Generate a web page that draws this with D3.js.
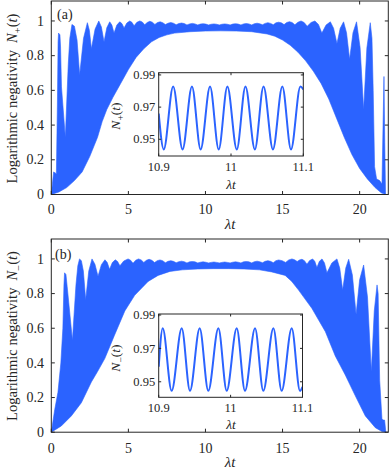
<!DOCTYPE html>
<html><head><meta charset="utf-8">
<script src="https://cdn.jsdelivr.net/npm/d3@7"></script>
<style>
body{margin:0;background:#fff}
svg{display:block}
text{font-family:"Liberation Serif","Times New Roman",serif;fill:#262626}
</style>
</head><body>
<svg id="chart" width="390" height="472"></svg>
<script>
// ---------- data ----------
const xTicks = [0, 5, 10, 15, 20];
const xTickLabels = ["0", "5", "10", "15", "20"];
const yTicks = [0, 0.2, 0.4, 0.6, 0.8, 1];
const yTickLabels = ["0", "0.2", "0.4", "0.6", "0.8", "1"];
const insetXTicks = [10.9, 11, 11.1];
const insetXTickLabels = ["10.9", "11", "11.1"];
const insetYTicks = [0.95, 0.97, 0.99];
const insetYTickLabels = ["0.95", "0.97", "0.99"];

// upper / lower envelope of the fast oscillation, panel (a): [λt, N+]
const upperA = [[0,0],[0.15,0.13],[0.33,0.12],[0.40,0.55],[0.44,0.88],[0.47,0.93],[0.56,0.92],[0.60,0.85],[0.66,0.62],[0.91,0.33],[1.1,0.75],[1.2,0.9],[1.34,0.98],[1.5,0.97],[1.67,0.89],[1.84,0.69],
  [2.09,0.90],[2.34,0.99],[2.47,0.946],[2.6,0.84],
  [2.84,0.953],[3.08,1.0],[3.25,0.965],[3.42,0.88],
  [3.6,0.961],[3.79,0.995],[3.93,0.976],[4.07,0.93],
  [4.25,0.976],[4.44,0.995],[4.58,0.985],[4.72,0.96],
  [4.9,0.988],[5.09,1.0],[5.23,0.992],[5.37,0.972],
  [5.55,0.992],[5.74,1.0],[5.9,0.994],[6.06,0.978],
  [6.22,0.991],[6.39,0.998],[6.55,0.993],[6.72,0.98],
  [6.89,0.991],[7.06,0.995],[7.23,0.99],[7.4,0.979],
  [7.57,0.987],[7.75,0.991],[7.92,0.987],[8.1,0.978],
  [8.27,0.985],[8.45,0.988],[8.62,0.985],[8.8,0.977],
  [8.97,0.983],[9.15,0.986],[9.32,0.983],[9.5,0.977],
  [9.67,0.982],[9.85,0.984],[10.02,0.982],[10.2,0.977],
  [10.37,0.981],[10.55,0.983],[10.72,0.981],[10.9,0.977],
  [11.07,0.981],[11.25,0.983],[11.42,0.981],[11.6,0.977],
  [11.77,0.982],[11.95,0.984],[12.12,0.982],[12.3,0.977],
  [12.47,0.983],[12.65,0.985],[12.82,0.983],[13.0,0.977],
  [13.17,0.984],[13.35,0.987],[13.52,0.984],[13.7,0.978],
  [13.87,0.986],[14.05,0.99],[14.22,0.986],[14.4,0.978],
  [14.57,0.989],[14.75,0.993],[14.92,0.989],[15.1,0.979],
  [15.27,0.991],[15.45,0.996],[15.62,0.991],[15.8,0.978],
  [16.0,0.993],[16.2,1.0],[16.4,0.991],[16.6,0.97],
  [16.85,0.991],[17.1,1.0],[17.33,0.98],[17.55,0.93],
  [17.82,0.976],[18.1,0.995],[18.31,0.958],[18.53,0.87],
  [18.74,0.958],[18.96,0.995],[19.15,0.932],[19.35,0.78],
  [19.57,0.932],[19.8,0.995],[20.03,0.847],[20.26,0.49],
  [20.47,0.844],[20.69,0.99],[20.8,0.9],[20.88,0.6],[20.97,0.16],
  [21.1,0.09],[21.3,0.08],[21.45,0.06],[21.52,0.4],[21.58,0.68],[21.63,0.3],[21.68,0.0]];
const lowerA = [[0,0],[0.5,0.015],[1.0,0.04],[1.5,0.08],[2.0,0.13],[2.5,0.22],[3.0,0.33],[3.3,0.42],[3.6,0.49],[4.0,0.56],[4.5,0.64],[5.0,0.72],[5.5,0.79],[6.0,0.84],[6.5,0.88],[7.0,0.905],[7.5,0.92],[8.0,0.93],[9.0,0.938],[10.0,0.942],[11.0,0.943],[12.0,0.942],[13.0,0.938],[14.0,0.925],[14.5,0.912],[15.0,0.89],[15.5,0.86],[16.0,0.82],[16.5,0.77],[17.0,0.71],[17.5,0.64],[18.0,0.55],[18.5,0.44],[19.0,0.33],[19.5,0.23],[20.0,0.15],[20.5,0.09],[21.0,0.04],[21.4,0.01],[21.68,0]];

// panel (b): [λt, N-]
const upperB = [[0,0],[0.22,0.13],[0.43,0.23],[0.62,0.40],[0.75,0.6],[0.82,0.85],[0.86,0.92],[0.95,0.91],[1.03,0.84],[1.13,0.75],[1.37,0.53],[1.6,0.85],[1.72,0.96],[1.83,1.0],[1.95,0.99],[2.08,0.93],[2.23,0.765],
  [2.43,0.93],[2.64,1.0],[2.83,0.97],[3.03,0.9],
  [3.25,0.967],[3.48,0.995],[3.63,0.979],[3.78,0.94],
  [3.96,0.979],[4.15,0.995],[4.3,0.985],[4.45,0.96],
  [4.7,0.988],[4.98,1.0],[5.14,0.993],[5.3,0.975],
  [5.48,0.993],[5.66,1.0],[5.83,0.994],[6.0,0.98],
  [6.17,0.992],[6.34,0.998],[6.52,0.992],[6.7,0.979],
  [6.87,0.99],[7.05,0.994],[7.22,0.99],[7.4,0.978],
  [7.57,0.986],[7.75,0.99],[7.92,0.986],[8.1,0.978],
  [8.27,0.984],[8.45,0.987],[8.62,0.984],[8.8,0.977],
  [8.97,0.983],[9.15,0.985],[9.32,0.983],[9.5,0.977],
  [9.67,0.981],[9.85,0.983],[10.02,0.981],[10.2,0.977],
  [10.37,0.98],[10.55,0.982],[10.72,0.98],[10.9,0.977],
  [11.07,0.98],[11.25,0.982],[11.42,0.98],[11.6,0.977],
  [11.77,0.981],[11.95,0.983],[12.12,0.981],[12.3,0.977],
  [12.47,0.983],[12.65,0.985],[12.82,0.983],[13.0,0.977],
  [13.17,0.984],[13.35,0.987],[13.52,0.984],[13.7,0.978],
  [13.87,0.986],[14.05,0.99],[14.22,0.986],[14.4,0.978],
  [14.57,0.99],[14.75,0.994],[14.97,0.99],[15.2,0.98],
  [15.4,0.994],[15.61,1.0],[15.78,0.995],[15.95,0.985],
  [16.1,0.994],[16.26,0.998],[16.42,0.99],[16.58,0.97],
  [16.76,0.991],[16.95,1.0],[17.09,0.986],[17.23,0.95],
  [17.39,0.986],[17.56,1.0],[17.72,0.977],[17.88,0.92],
  [18.2,0.977],[18.53,1.0],[18.71,0.947],[18.9,0.82],
  [19.1,0.947],[19.29,0.998],[19.53,0.907],[19.77,0.68],
  [20.0,0.88],[20.26,0.965],[20.51,0.78],[20.76,0.35],
  [20.95,0.7],[21.13,0.85],[21.2,0.8],[21.3,0.3],[21.45,0.075],[21.55,0.07],[21.62,0.07],[21.7,0]];
const lowerB = [[0,0],[0.65,0.036],[1.3,0.094],[1.95,0.17],[2.6,0.29],[3.0,0.35],[3.47,0.425],[4.1,0.56],[4.77,0.70],[5.41,0.79],[6.28,0.87],[6.93,0.905],[7.7,0.928],[8.5,0.937],[9.5,0.942],[10.5,0.944],[11.5,0.944],[12.5,0.942],[13.5,0.937],[14.3,0.925],[15.17,0.905],[15.6,0.87],[16.04,0.82],[16.9,0.715],[17.78,0.58],[18.42,0.44],[19.07,0.33],[19.72,0.21],[20.37,0.094],[21.02,0.026],[21.45,0.004],[21.7,0]];

// inset curves: start, alternating extrema, end
const insetA = [[10.9,0.966],[10.907,0.9437],[10.920,0.9828],[10.933,0.9437],[10.946,0.9828],[10.958,0.9437],[10.971,0.9828],[10.983,0.9437],[10.995,0.9828],[11.008,0.9437],[11.020,0.9828],[11.033,0.9437],[11.045,0.9828],[11.058,0.9437],[11.071,0.9828],[11.083,0.9437],[11.096,0.9828],[11.1,0.981]];
const insetB = [[10.9,0.959],[10.9056,0.982],[10.918,0.9446],[10.932,0.982],[10.9435,0.9446],[10.957,0.982],[10.969,0.9446],[10.983,0.982],[10.9946,0.9446],[11.0085,0.982],[11.020,0.9446],[11.034,0.982],[11.0455,0.9446],[11.0595,0.982],[11.071,0.9446],[11.085,0.982],[11.0965,0.9446],[11.1,0.947]];

// ---------- drawing ----------
const svg = d3.select("#chart");
const BLUE = "#2b63ff";
const AX = "#262626";

const panels = [
  {tag:"(a)", sub:"+", upper:upperA, lower:lowerA,
   top:1, bottom:194.5, tagY:19, yLabY:98.5, tickLabY:214, xLabY:229,
   inset:insetA, iTop:72.7, iBottom:156, iLeft:158.7, iRight:303.3, iDom:[0.9396,0.9914],
   iTickY:171, iXLabY:189, iYLabY:116},
  {tag:"(b)", sub:"\u2212", upper:upperB, lower:lowerB,
   top:239, bottom:432.2, tagY:259, yLabY:336, tickLabY:453, xLabY:467,
   inset:insetB, iTop:314, iBottom:397.3, iLeft:158.7, iRight:302.5, iDom:[0.9407,0.9906],
   iTickY:412, iXLabY:429, iYLabY:358}
];

function addN(textSel, sub, size) {
  const s = sub==="+" ? size*0.28 : size*0.32;
  textSel.append("tspan").attr("font-style","italic").text("N");
  textSel.append("tspan").attr("font-size", (size*0.72)+"px").attr("dy", s).text(sub);
  textSel.append("tspan").attr("dy", -s).text("(");
  textSel.append("tspan").attr("font-style","italic").text("t");
  textSel.append("tspan").text(")");
}
function addLambdaT(textSel) {
  textSel.append("tspan").attr("font-style","italic").text("\u03bbt");
}

panels.forEach(p => {
  const x = d3.scaleLinear().domain([0, 21.86]).range([51.3, 388.3]);
  const y = d3.scaleLinear().domain([0, 1.115]).range([p.bottom, p.top]);
  const g = svg.append("g");

  // filled band between upper and lower envelopes
  const poly = p.upper.concat(p.lower.slice().reverse());
  g.append("path")
    .attr("d", d3.line().x(d => x(d[0])).y(d => y(d[1]))(poly) + "Z")
    .attr("fill", BLUE).attr("stroke", BLUE).attr("stroke-width", 0.6).attr("stroke-linejoin","round");

  // axes box
  const x0 = x.range()[0], x1 = x.range()[1];
  g.append("rect").attr("x", x0).attr("y", p.top).attr("width", x1-x0).attr("height", p.bottom-p.top)
    .attr("fill","none").attr("stroke",AX).attr("stroke-width",1);

  const tl = 3.5;
  xTicks.forEach((t,i) => {
    const xx = x(t);
    g.append("line").attr("x1",xx).attr("x2",xx).attr("y1",p.bottom).attr("y2",p.bottom-tl).attr("stroke",AX);
    g.append("line").attr("x1",xx).attr("x2",xx).attr("y1",p.top).attr("y2",p.top+tl).attr("stroke",AX);
    g.append("text").attr("x",xx).attr("y",p.tickLabY).attr("text-anchor","middle").attr("font-size","14px").text(xTickLabels[i]);
  });
  yTicks.forEach((v,i) => {
    const yy = y(v);
    g.append("line").attr("x1",x0).attr("x2",x0+tl).attr("y1",yy).attr("y2",yy).attr("stroke",AX);
    g.append("line").attr("x1",x1).attr("x2",x1-tl).attr("y1",yy).attr("y2",yy).attr("stroke",AX);
    g.append("text").attr("x",44).attr("y",yy+4.7).attr("text-anchor","end").attr("font-size","14px").text(yTickLabels[i]);
  });

  // axis labels
  const xl = g.append("text").attr("x",230).attr("y",p.xLabY).attr("text-anchor","middle").attr("font-size","15px");
  addLambdaT(xl);
  const yl = g.append("text").attr("transform",`translate(17,${p.yLabY}) rotate(-90)`).attr("text-anchor","middle").attr("font-size","14.5px");
  yl.append("tspan").text("Logarithmic negativity\u2002");
  addN(yl, p.sub, 14.5);

  g.append("text").attr("x", p.tag==="(a)"?57:55).attr("y",p.tagY).attr("font-size","14px").text(p.tag);

  // ---------- inset ----------
  const ix = d3.scaleLinear().domain([10.9, 11.1]).range([p.iLeft, p.iRight]);
  const iy = d3.scaleLinear().domain(p.iDom).range([p.iBottom, p.iTop]);
  g.append("rect").attr("x",p.iLeft).attr("y",p.iTop).attr("width",p.iRight-p.iLeft).attr("height",p.iBottom-p.iTop)
    .attr("fill","#fff").attr("stroke","none");
  const clipId = "clip"+p.tag.replace(/\W/g,"");
  svg.append("clipPath").attr("id",clipId).append("rect")
    .attr("x",p.iLeft).attr("y",p.iTop).attr("width",p.iRight-p.iLeft).attr("height",p.iBottom-p.iTop);
  g.append("path")
    .attr("d", d3.line().curve(d3.curveMonotoneX).x(d => ix(d[0])).y(d => iy(d[1]))(p.inset))
    .attr("fill","none").attr("stroke",BLUE).attr("stroke-width",2).attr("clip-path",`url(#${clipId})`);
  g.append("rect").attr("x",p.iLeft).attr("y",p.iTop).attr("width",p.iRight-p.iLeft).attr("height",p.iBottom-p.iTop)
    .attr("fill","none").attr("stroke",AX).attr("stroke-width",1);
  const itl = 2.5;
  insetXTicks.forEach((t,i) => {
    const xx = ix(t);
    g.append("line").attr("x1",xx).attr("x2",xx).attr("y1",p.iBottom).attr("y2",p.iBottom-itl).attr("stroke",AX);
    g.append("line").attr("x1",xx).attr("x2",xx).attr("y1",p.iTop).attr("y2",p.iTop+itl).attr("stroke",AX);
    g.append("text").attr("x",xx).attr("y",p.iTickY).attr("text-anchor","middle").attr("font-size","12.5px").text(insetXTickLabels[i]);
  });
  insetYTicks.forEach((v,i) => {
    const yy = iy(v);
    g.append("line").attr("x1",p.iLeft).attr("x2",p.iLeft+itl).attr("y1",yy).attr("y2",yy).attr("stroke",AX);
    g.append("line").attr("x1",p.iRight).attr("x2",p.iRight-itl).attr("y1",yy).attr("y2",yy).attr("stroke",AX);
    g.append("text").attr("x",p.iLeft-3.5).attr("y",yy+4.2).attr("text-anchor","end").attr("font-size","12.5px").text(insetYTickLabels[i]);
  });
  const ixl = g.append("text").attr("x",231).attr("y",p.iXLabY).attr("text-anchor","middle").attr("font-size","13.5px");
  addLambdaT(ixl);
  const iyl = g.append("text").attr("transform",`translate(120,${p.iYLabY}) rotate(-90)`).attr("text-anchor","middle").attr("font-size","13.5px");
  addN(iyl, p.sub, 13.5);
});
</script>
</body></html>
